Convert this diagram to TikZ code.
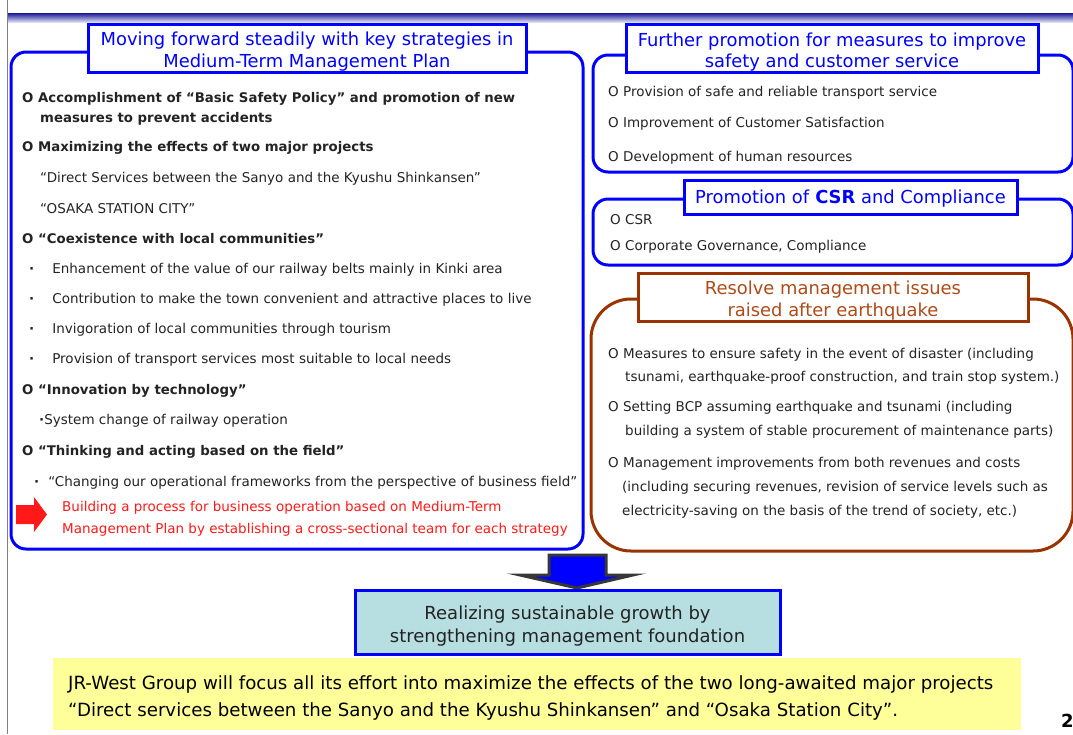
\documentclass[tikz,border=0pt]{standalone}
\usepackage{fontspec}
\setmainfont{DejaVu Sans}
\usetikzlibrary{positioning}
\definecolor{jrblue}{RGB}{0,0,255}
\definecolor{quakebrown}{RGB}{153,51,0}
\definecolor{quaketext}{RGB}{175,75,25}
\definecolor{bandnavy}{RGB}{25,25,150}
\definecolor{bandpale}{RGB}{220,220,242}
\definecolor{growthfill}{RGB}{183,222,224}
\definecolor{notefill}{RGB}{255,255,153}
\definecolor{alertred}{RGB}{255,25,25}
\definecolor{arrowgray}{RGB}{55,55,55}
\definecolor{bodytext}{RGB}{35,35,35}
\tikzset{
	panel/.style={
		draw=jrblue,
		line width=3pt,
		rounded corners=15pt
	}
}

\begin{document}
\begin{tikzpicture}[x=1pt,y=-1pt]
		\tikzstyle{body}=[anchor=base west, inner sep=0pt, text=bodytext, font=\fontsize{13.5}{16}\selectfont]
		\tikzstyle{bodybold}=[body, font=\fontsize{13.3}{16}\selectfont\bfseries]
		\tikzstyle{alert}=[body, text=alertred]
		\tikzstyle{titlebox}=[rectangle, draw=jrblue, line width=3pt, fill=white, inner sep=0pt]
		\tikzstyle{titletext}=[text=jrblue, align=center, inner sep=0pt, font=\fontsize{17.9}{21.5}\selectfont]
		\useasboundingbox (0,0) rectangle (1073,734);
		\clip (0,0) rectangle (1073,734);
		
		% page frame
		\draw [gray, line width=1pt] (7,0) -- (7,734);
		\shade [top color=bandnavy, bottom color=bandpale] (8,13) rectangle (1073,22);
		
		% panels
		\draw [panel] (11,52) rectangle (583,549);
		\draw [panel] (593,55) rectangle (1073,172);
		\draw [panel] (593,199) rectangle (1073,265);
		\draw [panel, draw=quakebrown, rounded corners=40pt] (591,299) rectangle (1073,551);
		
		\node[titlebox, minimum width=438pt, minimum height=48pt] (plan) at (307,48) {};
		\node[titletext] (plantext) at ([yshift=-3.5pt]plan.center) {Moving forward steadily with key strategies in\\Medium-Term Management Plan};
		\node[titlebox, minimum width=412pt, minimum height=48pt] (safety) at (832,48) {};
		\node[titletext] (safetytext) at ([yshift=-4pt]safety.center) {Further promotion for measures to improve\\safety and customer service};
		\node[titlebox, minimum width=333pt, minimum height=34pt] (csr) at (850.5,197.5) {};
		\node[titletext] (csrtext) at ([yshift=-1pt]csr.center) {Promotion of \textbf{CSR} and Compliance};
		\node[titlebox, draw=quakebrown, minimum width=390pt, minimum height=48pt] (quake) at (833,297) {};
		\node[titletext, text=quaketext] (quaketext) at ([yshift=-3.5pt]quake.center) {Resolve management issues\\raised after earthquake};
		
		% left panel items
		\node[bodybold] (l1) at (22,102) {O Accomplishment of “Basic Safety Policy” and promotion of new};
		\node[bodybold] (l1b) at (40,122) {measures to prevent accidents};
		\node[bodybold] (l2) at (22,151) {O Maximizing the effects of two major projects};
		\node[body] (l2a) at (40,182) {“Direct Services between the Sanyo and the Kyushu Shinkansen”};
		\node[body] (l2b) at (40,213) {“OSAKA STATION CITY”};
		\node[bodybold] (l3) at (22,243) {O “Coexistence with local communities”};
		\node[body] (l3a) at (29,273) {\textbf{·}\hspace{18pt}Enhancement of the value of our railway belts mainly in Kinki area};
		\node[body] (l3b) at (29,303) {\textbf{·}\hspace{18pt}Contribution to make the town convenient and attractive places to live};
		\node[body] (l3c) at (29,333) {\textbf{·}\hspace{18pt}Invigoration of local communities through tourism};
		\node[body] (l3d) at (29,363) {\textbf{·}\hspace{18pt}Provision of transport services most suitable to local needs};
		\node[bodybold] (l4) at (22,394) {O “Innovation by technology”};
		\node[body] (l4a) at (39,424) {\textbf{·}System change of railway operation};
		\node[bodybold] (l5) at (22,455) {O “Thinking and acting based on the field”};
		\node[body] (l5a) at (34,486) {\textbf{·}\hspace{9pt}“Changing our operational frameworks from the perspective of business field”};
		\node[alert] (l5b) at (62,511) {Building a process for business operation based on Medium-Term};
		\node[alert] (l5c) at (62,533) {Management Plan by establishing a cross-sectional team for each strategy};
		\fill [alertred] (16,505) -- (34,505) -- (34,497) -- (47,514.5) -- (34,532) -- (34,524) -- (16,524) -- cycle;
		
		% right panel items
		\node[body] (r1) at (608,96) {O Provision of safe and reliable transport service};
		\node[body] (r2) at (608,127) {O Improvement of Customer Satisfaction};
		\node[body] (r3) at (608,161) {O Development of human resources};
		\node[body] (c1) at (610,224) {O CSR};
		\node[body] (c2) at (610,250) {O Corporate Governance, Compliance};
		\node[body] (q1) at (608,358) {O Measures to ensure safety in the event of disaster (including};
		\node[body] (q1b) at (625,381) {tsunami, earthquake-proof construction, and train stop system.)};
		\node[body] (q2) at (608,411) {O Setting BCP assuming earthquake and tsunami (including};
		\node[body] (q2b) at (625,435) {building a system of stable procurement of maintenance parts)};
		\node[body] (q3) at (608,467) {O Management improvements from both revenues and costs};
		\node[body] (q3b) at (622,491) {(including securing revenues, revision of service levels such as};
		\node[body] (q3c) at (622,515) {electricity-saving on the basis of the trend of society, etc.)};
		
		% result
		\draw [fill=jrblue, draw=arrowgray, line width=3pt, line join=miter] (549,555) -- (606,555) -- (606,575) -- (633,575) -- (577,588) -- (520,575) -- (549,575) -- cycle;
		\node[rectangle, draw=jrblue, line width=3pt, fill=growthfill, minimum width=425pt, minimum height=64pt] (growth) at (567.5,622) {};
		\node[titletext, text=bodytext, font=\fontsize{18}{23}\selectfont] (growthtext) at ([yshift=-4pt]growth.center) {Realizing sustainable growth by\\strengthening management foundation};
		\node[rectangle, fill=notefill, anchor=north west, minimum width=968pt, minimum height=72pt] (note) at (53,658) {};
		\node[body, text=black, font=\fontsize{18.2}{20}\selectfont] (n1) at (68,689) {JR-West Group will focus all its effort into maximize the effects of the two long-awaited major projects};
		\node[body, text=black, font=\fontsize{18.2}{20}\selectfont] (n2) at (68,716) {“Direct services between the Sanyo and the Kyushu Shinkansen” and “Osaka Station City”.};
		\node[body, text=black, font=\fontsize{18}{20}\selectfont\bfseries] (page) at (1061,727) {2};
		
\end{tikzpicture}
\end{document}
